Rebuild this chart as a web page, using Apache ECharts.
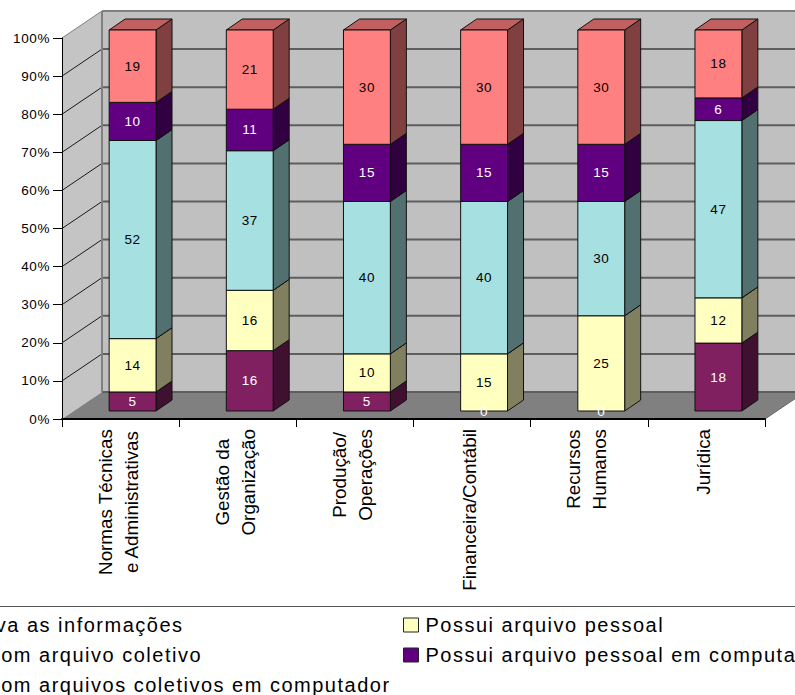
<!DOCTYPE html>
<html>
<head>
<meta charset="utf-8">
<style>
html,body{margin:0;padding:0;background:#fff;overflow:hidden}
#chart{width:795px;height:695px}
/* Looser tracking for the legend and the small value text */
text[style*="20px"]{letter-spacing:1.5px}
text[style*="13.5px"]{letter-spacing:.6px}
</style>
<script src="https://cdn.jsdelivr.net/npm/echarts@6/dist/echarts.min.js"></script>
</head>
<body>
<div id="chart"></div>
<script>
// Categories and tick labels
const categories = [
  ['Normas Técnicas', 'e Administrativas'],
  ['Gestão da', 'Organização'],
  ['Produção/', 'Operações'],
  ['Financeira/Contábil'],
  ['Recursos', 'Humanos'],
  ['Jurídica']
];
const percentTicks = [0, 10, 20, 30, 40, 50, 60, 70, 80, 90, 100];

// Series values per category, bottom of the stack first
const naoArquiva = [5, 16, 5, 0, 0, 18];
const arquivoPessoal = [14, 16, 10, 15, 25, 12];
const arquivoColetivo = [52, 37, 40, 40, 30, 47];
const pessoalComputador = [10, 11, 15, 15, 15, 6];
const coletivoComputador = [19, 21, 30, 30, 30, 18];

// Series names
const nameNaoArquiva = 'Não arquiva as informações';
const namePessoal = 'Possui arquivo pessoal';
const nameColetivo = 'Trabalha com arquivo coletivo';
const namePessoalComp = 'Possui arquivo pessoal em computador';
const nameColetivoComp = 'Trabalha com arquivos coletivos em computador';

const stackSeries = [
  { name: nameNaoArquiva, values: naoArquiva, front: '#802060', side: '#401030', top: '#601848', text: '#fff' },
  { name: namePessoal, values: arquivoPessoal, front: '#FFFFC0', side: '#808060', top: '#C0C090', text: '#000' },
  { name: nameColetivo, values: arquivoColetivo, front: '#A6E0E0', side: '#537070', top: '#7DA8A8', text: '#000' },
  { name: namePessoalComp, values: pessoalComputador, front: '#600080', side: '#300040', top: '#480060', text: '#fff' },
  { name: nameColetivoComp, values: coletivoComputador, front: '#FF8080', side: '#804040', top: '#C06060', text: '#000' }
];

// Oblique projection: the box recedes by this much, bars sit part way in
const BOX_DEPTH = [40, -27];
const BAR_OFFSET = [12, -8];
const BAR_DEPTH = [16, -11];
const BAR_RATIO = 0.4;
const OUTLINE = '#111';

const categoryTotals = categories.map((_, i) => stackSeries.reduce((s, d) => s + d.values[i], 0));

function stackedShare(seriesIndex, i) {
  let before = 0;
  for (let k = 0; k < seriesIndex; k++) before += stackSeries[k].values[i];
  const value = stackSeries[seriesIndex].values[i];
  const total = categoryTotals[i];
  return [i, value, before / total * 100, (before + value) / total * 100];
}

function poly(points, fill, stroke, width) {
  return { type: 'polygon', shape: { points }, style: { fill, stroke: stroke || null, lineWidth: width || 0 } };
}
function line(a, b, stroke, width) {
  return { type: 'line', shape: { x1: a[0], y1: a[1], x2: b[0], y2: b[1] }, style: { stroke, lineWidth: width } };
}

// Side wall, back wall, floor and their gridlines
function renderBox(params, api) {
  const g = params.coordSys;
  const [dx, dy] = BOX_DEPTH;
  const left = g.x, right = g.x + g.width, bottom = g.y + g.height, top = g.y;
  const children = [
    poly([[left + dx, top + dy], [right + dx, top + dy], [right + dx, bottom + dy], [left + dx, bottom + dy]], '#C0C0C0'),
    poly([[left, bottom], [left, top], [left + dx, top + dy], [left + dx, bottom + dy]], '#C4C4C4'),
    poly([[left, bottom], [left + dx, bottom + dy], [right + dx, bottom + dy], [right, bottom]], '#808080')
  ];
  percentTicks.forEach(t => {
    const y = api.coord([0, t])[1];
    const edge = t === 100 ? '#808080' : '#5E5E5E';
    children.push(line([left + dx, y + dy], [right + dx, y + dy], edge, 2));
    if (t > 0) children.push(line([left, y], [left + dx, y + dy], t === 100 ? '#808080' : '#1a1a1a', 1));
  });
  children.push(line([left + dx, top + dy], [left + dx, bottom + dy], '#808080', 2));
  children.push(line([right, bottom], [right + dx, bottom + dy], '#666', 1));
  return { type: 'group', children };
}

// One stacked segment: front face, right side, top, and its value label
function renderSegment(meta) {
  return function (params, api) {
    const cat = api.value(0);
    const value = api.value(1);
    const halfW = api.size([1, 0])[0] * BAR_RATIO / 2;
    const lo = api.coord([cat, api.value(2)]);
    const hi = api.coord([cat, api.value(3)]);
    const cx = lo[0] + BAR_OFFSET[0];
    const yLo = lo[1] + BAR_OFFSET[1];
    const yHi = hi[1] + BAR_OFFSET[1];
    const x0 = cx - halfW, x1 = cx + halfW;
    const [dx, dy] = BAR_DEPTH;
    const children = [];
    if (value > 0) {
      children.push(poly([[x1, yLo], [x1 + dx, yLo + dy], [x1 + dx, yHi + dy], [x1, yHi]], meta.side, OUTLINE, 1));
      children.push(poly([[x0, yHi], [x0 + dx, yHi + dy], [x1 + dx, yHi + dy], [x1, yHi]], meta.top, OUTLINE, 1));
      children.push(poly([[x0, yLo], [x1, yLo], [x1, yHi], [x0, yHi]], meta.front, OUTLINE, 1));
    }
    children.push({
      type: 'text',
      z2: 10,
      style: {
        x: cx, y: (yLo + yHi) / 2, text: String(value), fill: meta.text,
        font: '13.5px "Liberation Sans"', align: 'center', verticalAlign: 'middle'
      }
    });
    return { type: 'group', children };
  };
}

const legendBase = {
  orient: 'vertical', padding: 0, itemWidth: 15, itemHeight: 14, itemGap: 10, icon: 'rect',
  textStyle: { fontFamily: 'Liberation Sans', fontSize: 20, color: '#000', padding: [0, 0, 0, 2] },
  itemStyle: { borderColor: '#222', borderWidth: 1 }
};

const option = {
  animation: false,
  backgroundColor: '#fff',
  textStyle: { fontFamily: 'Liberation Sans' },
  grid: { left: 62, top: 38, width: 703, height: 381, containLabel: false },
  legend: [
    Object.assign({}, legendBase, { left: -127, top: 615, data: [nameNaoArquiva] }),
    Object.assign({}, legendBase, { left: -130, top: 645, data: [nameColetivo, nameColetivoComp] }),
    Object.assign({}, legendBase, { left: 403, top: 615, data: [namePessoal, namePessoalComp] })
  ],
  graphic: [{
    type: 'line', silent: true,
    shape: { x1: 0, y1: 606.5, x2: 795, y2: 606.5 },
    style: { stroke: '#555', lineWidth: 1 }
  }],
  xAxis: {
    type: 'category',
    data: categories.map(c => c.join('\n')),
    z: 5,
    axisLine: { lineStyle: { color: '#000', width: 2 } },
    axisTick: { show: true, length: 8, alignWithLabel: false, lineStyle: { color: '#000', width: 1 } },
    axisLabel: {
      interval: 0, rotate: 90, margin: 10, color: '#000', hideOverlap: false, padding: [0, 0, 5, 0],
      formatter: v => v.split('\n').map(s => '{c|' + s + '}').join('\n'),
      rich: { c: { align: 'center', fontFamily: 'Liberation Sans', fontSize: 18.8, color: '#000', lineHeight: 26 } }
    },
    splitLine: { show: false }
  },
  yAxis: {
    type: 'value', min: 0, max: 100, interval: 10, z: 5,
    axisLine: { show: true, lineStyle: { color: '#000', width: 1 } },
    axisTick: { show: true, length: 9, lineStyle: { color: '#000', width: 1 } },
    axisLabel: { margin: 12, fontSize: 13.5, color: '#000', fontFamily: 'Liberation Sans', formatter: '{value}%' },
    splitLine: { show: false }
  },
  series: [
    { type: 'custom', silent: true, z: 1, renderItem: renderBox, data: [[0, 0]], clip: false }
  ].concat(stackSeries.map((meta, s) => ({
    type: 'custom',
    name: meta.name,
    z: 2,
    clip: false,
    itemStyle: { color: meta.front },
    encode: { x: 0, y: 3 },
    renderItem: renderSegment(meta),
    data: categories.map((_, i) => stackedShare(s, i))
  })))
};

echarts.init(document.getElementById('chart'), null, { renderer: 'svg' }).setOption(option);
</script>
</body>
</html>
